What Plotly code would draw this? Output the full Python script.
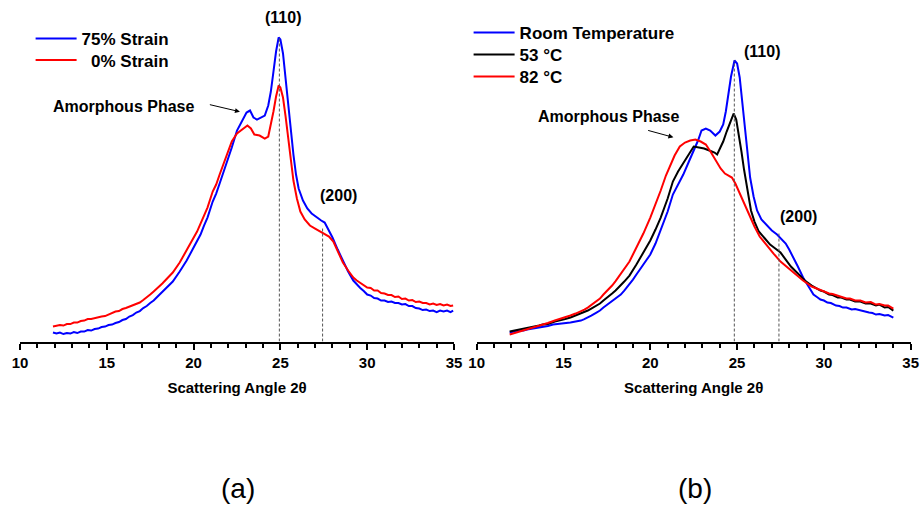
import plotly.graph_objects as go

# ---- Panel (a): strain series (2θ in degrees, intensity in arb. units) ----
theta_a_s75 = [11.9, 12.1, 12.3, 12.5, 12.7, 12.9, 13.1, 13.3, 13.5, 13.7, 13.9, 14.1, 14.3, 14.5,
               14.7, 14.9, 15.1, 15.3, 15.5, 15.7, 15.9, 16.1, 16.3, 16.5, 16.7, 16.9, 17.1, 17.3,
               17.5, 17.7, 17.9, 18.2, 18.5, 18.8, 19.2, 19.6, 20.0, 20.2, 20.4, 20.6, 20.8, 21.1,
               21.3, 21.5, 21.7, 21.9, 22.2, 22.5, 22.7, 22.8, 23.05, 23.25, 23.45, 23.65, 23.9,
               24.1, 24.3, 24.45, 24.6, 24.75, 24.9, 25.0, 25.15, 25.3, 25.45, 25.6, 25.75, 25.9,
               26.05, 26.3, 26.55, 26.8, 27.1, 27.35, 27.55, 27.75, 28.0, 28.3, 28.6, 28.9, 29.2,
               29.4, 29.6, 29.8, 30.0, 30.2, 30.4, 30.6, 30.8, 31.0, 31.2, 31.4, 31.6, 31.8, 32.0,
               32.2, 32.4, 32.6, 32.8, 33.0, 33.2, 33.4, 33.6, 33.8, 34.0, 34.2, 34.4, 34.6, 34.8, 34.95]
int_a_s75 = [9, 8, 9, 7.5, 8.5, 8, 9.5, 8.5, 10, 10, 11.5, 11, 12.5, 13,
             14.5, 15, 16.5, 17, 18.5, 19.5, 21.5, 22.5, 25, 26.5, 29, 30.5, 33.5, 35.5,
             38.5, 41, 44.5, 50, 54.5, 60, 70, 81, 94, 100, 107, 116, 124, 140,
             148, 158, 168, 177, 194, 211, 217, 221, 229, 231, 224, 222, 224,
             226, 236, 250, 270, 290, 304, 302, 288, 262, 237, 212, 187, 167,
             153, 141, 133, 128, 124, 121, 119, 113, 104, 92, 81, 70, 61,
             57, 53.5, 50.5, 47, 46, 43.5, 43, 41, 41, 39.5, 40, 38.5, 38.5, 37,
             37.5, 35.5, 35.5, 33.5, 33, 31.5, 32, 30.5, 31, 29.5, 31, 30, 31, 29.5, 31]

theta_a_s0 = [11.9, 12.1, 12.3, 12.5, 12.7, 12.9, 13.1, 13.3, 13.5, 13.7, 13.9, 14.1, 14.3, 14.5,
              14.7, 14.9, 15.1, 15.3, 15.5, 15.7, 15.9, 16.1, 16.3, 16.5, 16.7, 16.9, 17.1, 17.3,
              17.5, 17.7, 17.9, 18.2, 18.5, 18.8, 19.2, 19.6, 20.0, 20.2, 20.4, 20.6, 20.8, 21.1,
              21.3, 21.5, 21.7, 21.9, 22.2, 22.5, 22.8, 23.1, 23.3, 23.5, 23.8, 24.1, 24.3,
              24.45, 24.6, 24.75, 24.9, 25.0, 25.15, 25.3, 25.45, 25.6, 25.75, 25.95, 26.15,
              26.4, 26.7, 27.0, 27.3, 27.5, 27.8, 28.05, 28.3, 28.6, 28.9, 29.2, 29.4, 29.6,
              29.8, 30.0, 30.2, 30.4, 30.6, 30.8, 31.0, 31.2, 31.4, 31.6, 31.8, 32.0, 32.2, 32.4,
              32.6, 32.8, 33.0, 33.2, 33.4, 33.6, 33.8, 34.0, 34.2, 34.4, 34.6, 34.8, 34.95]
int_a_s0 = [15, 15.5, 16.5, 16, 17.5, 17.5, 19, 19, 20.5, 21, 22.5, 22.5, 23.5, 24,
            25, 25.5, 27, 28, 30, 30.5, 32.5, 33.5, 35, 36, 38, 39, 41.5, 44,
            47, 50, 53, 58, 63.5, 69, 79, 91, 103, 110, 118, 126, 134, 150,
            157, 167, 177, 187, 200, 208, 212, 216, 213, 207, 206, 203, 205,
            217, 230, 245, 256, 254, 244, 225, 205, 180, 161, 143, 130,
            122, 116, 113, 110, 108, 105, 100, 90, 79, 71, 64, 61, 58.5,
            56.5, 54, 53.5, 51, 51, 48.5, 48, 46.5, 46.5, 44.5, 45, 42.5, 43, 41,
            41.5, 39.5, 40, 38.5, 38.5, 37, 38, 36.5, 37.5, 36, 37, 35.5, 36]

# ---- Panel (b): temperature series ----
theta_b_rt = [11.9, 12.1, 12.3, 12.5, 12.7, 12.9, 13.1, 13.3, 13.5, 13.8, 14.1, 14.4, 14.7, 15.0,
              15.4, 15.7, 16.0, 16.2, 16.4, 16.6, 16.9, 17.1, 17.3, 17.5, 17.8, 18.0, 18.3, 18.5,
              18.8, 19.0, 19.2, 19.4, 19.6, 20.0, 20.3, 20.6, 21.0, 21.3, 21.6, 21.9, 22.2, 22.5,
              22.75, 22.95, 23.2, 23.45, 23.75, 24.0, 24.2, 24.35, 24.5, 24.65, 24.85, 25.0,
              25.15, 25.3, 25.45, 25.6, 25.75, 25.95, 26.15, 26.4, 26.7, 27.0, 27.3, 27.55, 27.8,
              28.0, 28.25, 28.5, 28.8, 29.1, 29.4, 29.6, 29.8, 30.0, 30.2, 30.4, 30.7, 30.9, 31.1,
              31.3, 31.6, 31.8, 32.1, 32.3, 32.6, 32.8, 33.0, 33.2, 33.5, 33.7, 34.0]
int_b_rt = [9, 10, 10.5, 11, 11, 12, 12.5, 13, 14, 14.7, 15.5, 17, 17.5, 18,
            19, 20, 21, 22.5, 24, 26, 29, 31, 34, 36.5, 40, 43, 47, 51,
            57, 62, 67, 72, 77, 87, 98, 111, 130, 147, 157, 167, 179, 191,
            201, 211, 213, 211, 206, 210, 217, 230, 247, 265, 281, 278,
            264, 238, 211, 187, 164, 145, 131, 122, 116, 111, 107, 103, 98,
            92, 84, 75, 64, 55, 47, 44.5, 42, 41, 39, 38.5, 36, 35.5, 34,
            34, 32, 32.5, 31, 30.5, 29, 28.5, 27, 27.5, 26, 26.5, 24]

theta_b_53 = [11.9, 12.2, 12.5, 12.8, 13.0, 13.3, 13.6, 13.8, 14.1, 14.5, 14.8, 15.1, 15.4, 15.7,
              16.0, 16.2, 16.4, 16.6, 16.9, 17.1, 17.3, 17.5, 17.8, 18.0, 18.3, 18.5, 18.8, 19.0,
              19.2, 19.4, 19.6, 20.0, 20.3, 20.6, 21.0, 21.3, 21.6, 21.9, 22.2, 22.5, 22.8, 23.1,
              23.4, 23.7, 23.85, 24.0, 24.2, 24.4, 24.6, 24.8, 24.95, 25.1, 25.25, 25.4, 25.6,
              25.8, 26.0, 26.25, 26.6, 26.9, 27.2, 27.5, 27.8, 28.1, 28.5, 28.9, 29.3, 29.5, 29.8,
              30.0, 30.3, 30.5, 30.8, 31.0, 31.3, 31.5, 31.8, 32.1, 32.4, 32.7, 33.0, 33.2, 33.5,
              33.7, 34.0]
int_b_53 = [10, 11, 12, 13, 14, 14.5, 16, 17, 17.5, 20, 21, 22.5, 24, 26,
            28, 29, 31, 33, 36, 38, 41, 43.5, 48, 51, 56, 60, 66, 71,
            77, 83, 89, 101, 112, 124, 143, 160, 170, 178, 187, 195, 194, 193,
            191, 189, 187, 192, 200, 210, 220, 228, 222, 207, 190, 172, 150,
            131, 120, 110, 103, 97, 93, 89, 82, 75, 68, 61, 56, 54, 51,
            50, 47, 46.5, 44, 44, 42, 42, 40, 40, 38, 38, 36, 37, 34,
            34.5, 31]

theta_b_82 = [11.9, 12.2, 12.5, 12.8, 13.0, 13.3, 13.6, 13.8, 14.1, 14.5, 14.8, 15.1, 15.4, 15.7,
              16.0, 16.2, 16.4, 16.6, 16.9, 17.1, 17.3, 17.5, 17.8, 18.0, 18.3, 18.5, 18.8, 19.0,
              19.2, 19.4, 19.6, 20.0, 20.3, 20.6, 20.9, 21.15, 21.4, 21.7, 22.0, 22.3, 22.6, 22.9,
              23.2, 23.5, 23.8, 24.05, 24.3, 24.5, 24.7, 24.9, 25.1, 25.4, 25.7, 26.0, 26.3,
              26.7, 27.1, 27.5, 27.9, 28.3, 28.8, 29.3, 29.5, 29.8, 30.0, 30.3, 30.5, 30.8, 31.0,
              31.3, 31.5, 31.8, 32.1, 32.4, 32.7, 33.0, 33.2, 33.5, 33.7, 34.0]
int_b_82 = [7, 8.5, 10, 11.5, 13, 14, 16, 17, 18.5, 21, 22.5, 24, 26, 28,
            30, 32, 34, 36.5, 40, 43, 47, 50.5, 56, 60.5, 68, 72.5, 80, 87,
            94, 101, 108, 124, 137, 151, 166, 177, 186, 195, 199, 201, 202, 200,
            197, 189, 181, 173, 168, 166, 164, 158, 150, 138, 126, 115, 105,
            96, 88, 80, 74, 68, 61, 55, 53.5, 51, 50, 48, 47.5, 46, 45,
            43, 43, 41, 41, 39, 39.5, 37, 37.5, 36, 36, 33]

# Reflection markers: peak position and height of the dotted guide
peaks_a_theta = [24.94, 27.43]
peaks_a_height = [304, 113]
peaks_b_theta = [24.84, 27.41]
peaks_b_height = [281, 108]

x_ticks = [10, 15, 20, 25, 30, 35]

BLUE = "#0000ff"
RED = "#ff0000"
BLACK = "#000000"
FONT = "Liberation Sans"

fig = go.Figure()

def curve(x, y, name, color, xa, ya, legend):
    fig.add_trace(go.Scatter(x=x, y=y, name=name, mode="lines",
                             line=dict(color=color, width=2),
                             xaxis=xa, yaxis=ya, legend=legend))

curve(theta_a_s75, int_a_s75, "75% Strain", BLUE, "x", "y", "legend")
curve(theta_a_s0, int_a_s0, "&nbsp;&nbsp;0% Strain", RED, "x", "y", "legend2")
curve(theta_b_rt, int_b_rt, "Room Temperature", BLUE, "x2", "y2", "legend3")
curve(theta_b_53, int_b_53, "53 °C", BLACK, "x2", "y2", "legend4")
curve(theta_b_82, int_b_82, "82 °C", RED, "x2", "y2", "legend5")

# dotted guides from each reflection down to the axis
for xs, hs, xa, ya in [(peaks_a_theta, peaks_a_height, "x", "y"),
                       (peaks_b_theta, peaks_b_height, "x2", "y2")]:
    for t, h in zip(xs, hs):
        fig.add_trace(go.Scatter(x=[t, t], y=[0, h], mode="lines", showlegend=False,
                                 line=dict(color="#555555", width=1, dash="3px,2px"),
                                 xaxis=xa, yaxis=ya, hoverinfo="skip"))

axis_common = dict(
    range=[10, 35], tickvals=x_ticks, ticks="outside", ticklen=6, tickwidth=2,
    tickcolor="black", showline=True, linewidth=2, linecolor="black",
    showgrid=False, zeroline=False, automargin=False,
    tickfont=dict(family=FONT, size=15, color="black", weight="bold"),
    minor=dict(dtick=1, tick0=10, ticks="outside", ticklen=4, tickwidth=2, tickcolor="black"),
    title=dict(text="Scattering Angle 2θ", standoff=13,
               font=dict(family=FONT, size=15, color="black", weight="bold")),
)
yaxis_common = dict(range=[0, 341.5], visible=False, domain=[0.325, 1.0])

# one single-entry legend per series so the row spacing can be set freely
legend_font = dict(family=FONT, size=17, color="black", weight="bold")
def legend_box(x_px, row_center_px):
    return dict(x=x_px / 920, y=1 - (row_center_px - 18) / 506, xanchor="left", yanchor="top",
                bgcolor="rgba(0,0,0,0)", font=legend_font, itemwidth=41)

fig.update_layout(
    width=920, height=506,
    margin=dict(l=0, r=0, t=0, b=0),
    paper_bgcolor="white", plot_bgcolor="white",
    xaxis=dict(domain=[20 / 920, 454 / 920], anchor="y", **axis_common),
    xaxis2=dict(domain=[476.7 / 920, 910.7 / 920], anchor="y2", **axis_common),
    yaxis=dict(anchor="x", **yaxis_common),
    yaxis2=dict(anchor="x2", **yaxis_common),
    legend=legend_box(30.6, 39),
    legend2=legend_box(30.6, 60.5),
    legend3=legend_box(468.6, 33),
    legend4=legend_box(468.6, 55),
    legend5=legend_box(468.6, 77),
)

lab = dict(family=FONT, size=16, color="black", weight="bold")
notes = [
    dict(x=25.15, y=324.5, xref="x", yref="y", text="(110)", showarrow=False, font=lab),
    dict(x=28.34, y=146.5, xref="x", yref="y", text="(200)", showarrow=False, font=lab),
    dict(x=15.95, y=234.8, xref="x", yref="y", text="Amorphous Phase", showarrow=False, font=lab),
    dict(x=22.67, y=229.8, xref="x", yref="y", ax=20.85, ay=237.2, axref="x", ayref="y",
         text="", showarrow=True, arrowhead=2, arrowsize=1, arrowwidth=1, arrowcolor="black"),
    dict(x=26.42, y=289.8, xref="x2", yref="y2", text="(110)", showarrow=False, font=lab),
    dict(x=28.53, y=124.8, xref="x2", yref="y2", text="(200)", showarrow=False, font=lab),
    dict(x=17.6, y=224.8, xref="x2", yref="y2", text="Amorphous Phase", showarrow=False, font=lab),
    dict(x=21.33, y=204.2, xref="x2", yref="y2", ax=19.79, ay=211.5, axref="x2", ayref="y2",
         text="", showarrow=True, arrowhead=2, arrowsize=1, arrowwidth=1, arrowcolor="black"),
    dict(x=219 / 920, y=0, xref="paper", yref="paper", yanchor="bottom", text="(a)",
         showarrow=False, font=dict(family=FONT, size=28, color="black")),
    dict(x=714 / 920, y=0, xref="paper", yref="paper", yanchor="bottom", text="(b)",
         showarrow=False, font=dict(family=FONT, size=28, color="black")),
]
fig.update_layout(annotations=notes)

fig.write_html("out.html")
